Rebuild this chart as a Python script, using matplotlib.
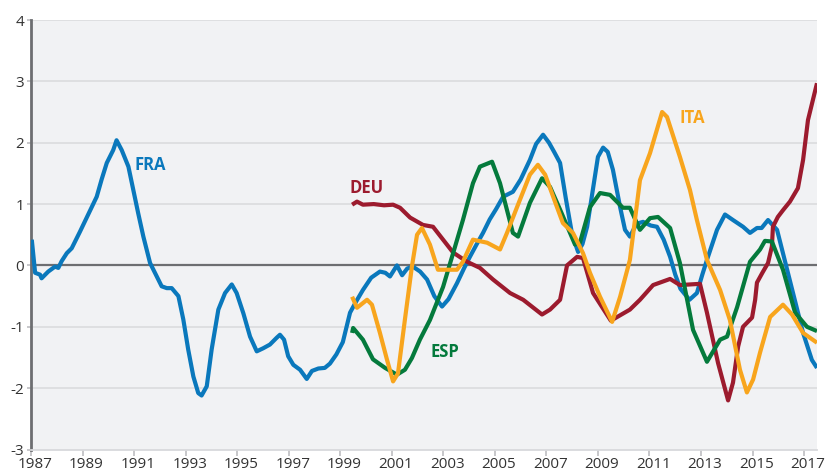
import matplotlib
matplotlib.use("Agg")
import matplotlib.pyplot as plt
import matplotlib.transforms as mtransforms

plt.rcParams['font.family'] = ['Open Sans', 'DejaVu Sans']

# ---------------- data ----------------
fra_x = [1987.03, 1987.16, 1987.35, 1987.41, 1987.67, 1987.93, 1988.06, 1988.19, 1988.39, 1988.58,
         1988.9, 1989.22, 1989.55, 1989.74, 1989.94, 1990.19, 1990.32, 1990.52, 1990.78, 1990.97,
         1991.16, 1991.36, 1991.62, 1991.88, 1992.07, 1992.27, 1992.46, 1992.72, 1992.91, 1993.1,
         1993.3, 1993.49, 1993.62, 1993.82, 1994.01, 1994.27, 1994.53, 1994.79, 1994.98, 1995.24,
         1995.5, 1995.76, 1996.01, 1996.27, 1996.53, 1996.66, 1996.82, 1996.98, 1997.18, 1997.44,
         1997.7, 1997.9, 1998.15, 1998.4, 1998.6, 1998.85, 1999.1, 1999.38, 1999.6, 1999.88,
         2000.2, 2000.54, 2000.75, 2000.93, 2001.2, 2001.4, 2001.6, 2001.82, 2002.1, 2002.37,
         2002.65, 2002.95, 2003.2, 2003.53, 2003.8, 2004.03, 2004.3, 2004.54, 2004.8, 2005.05,
         2005.32, 2005.7, 2006.0, 2006.36, 2006.6, 2006.87, 2007.1, 2007.3, 2007.53, 2007.75,
         2008.0, 2008.23, 2008.4, 2008.58, 2008.8, 2009.0, 2009.2, 2009.38, 2009.58, 2009.86,
         2010.05, 2010.24, 2010.5, 2010.75, 2011.05, 2011.29, 2011.55, 2011.8, 2012.0, 2012.2,
         2012.55, 2012.84, 2013.05, 2013.23, 2013.62, 2013.93, 2014.24, 2014.63, 2014.9, 2015.17,
         2015.35, 2015.6, 2015.95, 2016.18, 2016.57, 2016.96, 2017.3, 2017.5]
fra_y = [0.42, -0.12, -0.15, -0.21, -0.10, -0.02, -0.04, 0.07, 0.20, 0.28,
         0.55, 0.83, 1.12, 1.40, 1.67, 1.88, 2.04, 1.88, 1.61, 1.23,
         0.85, 0.47, 0.04, -0.18, -0.34, -0.37, -0.37, -0.50, -0.88, -1.37,
         -1.81, -2.08, -2.12, -1.97, -1.37, -0.72, -0.45, -0.31, -0.45, -0.78,
         -1.16, -1.40, -1.35, -1.29, -1.18, -1.13, -1.21, -1.48, -1.62, -1.70,
         -1.85, -1.72, -1.68, -1.67, -1.60, -1.45, -1.25, -0.77, -0.60, -0.40,
         -0.20, -0.10, -0.12, -0.18, 0.00, -0.16, -0.05, -0.02, -0.10, -0.23,
         -0.50, -0.67, -0.55, -0.29, -0.05, 0.14, 0.35, 0.53, 0.75, 0.92,
         1.12, 1.20, 1.40, 1.72, 1.98, 2.13, 2.00, 1.85, 1.67, 1.10,
         0.50, 0.22, 0.35, 0.63, 1.23, 1.77, 1.92, 1.85, 1.56, 0.95,
         0.58, 0.47, 0.68, 0.71, 0.65, 0.63, 0.42, 0.14, -0.15, -0.38,
         -0.56, -0.45, -0.15, 0.09, 0.58, 0.83, 0.74, 0.63, 0.53, 0.61,
         0.61, 0.74, 0.58, 0.20, -0.45, -1.10, -1.54, -1.67]

deu_x = [1999.46, 1999.65, 1999.88, 2000.3, 2000.7, 2001.05, 2001.32, 2001.71, 2002.21, 2002.6,
         2002.99, 2003.38, 2003.92, 2004.42, 2004.93, 2005.59, 2006.1, 2006.83, 2007.14, 2007.53,
         2007.8, 2008.19, 2008.42, 2008.81, 2009.5, 2010.24, 2010.63, 2011.14, 2011.8, 2012.18,
         2012.96, 2013.23, 2013.66, 2014.05, 2014.24, 2014.44, 2014.63, 2014.98, 2015.1, 2015.17,
         2015.38, 2015.6, 2015.75, 2015.79, 2015.98, 2016.18, 2016.45, 2016.76, 2016.96, 2017.15,
         2017.5]
deu_y = [0.99, 1.04, 0.99, 1.00, 0.98, 0.99, 0.94, 0.78, 0.66, 0.63,
         0.42, 0.21, 0.06, -0.04, -0.23, -0.45, -0.56, -0.80, -0.72, -0.56,
         0.00, 0.14, 0.12, -0.45, -0.90, -0.72, -0.56, -0.32, -0.22, -0.32,
         -0.30, -0.77, -1.59, -2.20, -1.91, -1.32, -1.00, -0.85, -0.56, -0.28,
         -0.12, 0.04, 0.31, 0.63, 0.79, 0.90, 1.04, 1.26, 1.72, 2.37,
         2.97]

ita_x = [1999.46, 1999.65, 2000.04, 2000.23, 2000.54, 2000.81, 2001.05, 2001.24, 2001.51, 2001.78,
         2001.98, 2002.17, 2002.48, 2002.79, 2003.14, 2003.53, 2003.76, 2004.15, 2004.7, 2005.2,
         2005.47, 2005.86, 2006.36, 2006.67, 2006.95, 2007.41, 2007.64, 2008.03, 2008.42, 2008.69,
         2009.08, 2009.55, 2009.86, 2010.24, 2010.63, 2011.02, 2011.49, 2011.68, 2012.18, 2012.57,
         2012.84, 2013.23, 2013.74, 2014.12, 2014.51, 2014.78, 2015.02, 2015.29, 2015.68, 2016.18,
         2016.53, 2016.96, 2017.5]
ita_y = [-0.51, -0.69, -0.56, -0.64, -1.10, -1.53, -1.89, -1.76, -0.88, -0.02,
         0.50, 0.61, 0.34, -0.07, -0.07, -0.07, 0.06, 0.42, 0.37, 0.26,
         0.53, 0.95, 1.48, 1.64, 1.48, 0.95, 0.69, 0.53, 0.20, -0.12,
         -0.51, -0.92, -0.51, 0.09, 1.39, 1.83, 2.50, 2.42, 1.77, 1.23,
         0.74, 0.09, -0.40, -0.89, -1.70, -2.07, -1.86, -1.42, -0.84, -0.64,
         -0.80, -1.10, -1.26]

esp_x = [1999.46, 1999.5, 1999.88, 2000.27, 2000.74, 2001.2, 2001.51, 2001.78, 2002.09, 2002.48,
         2002.99, 2003.38, 2003.76, 2004.15, 2004.42, 2004.89, 2005.2, 2005.7, 2005.9, 2006.36,
         2006.83, 2007.14, 2007.53, 2008.11, 2008.3, 2008.69, 2009.08, 2009.47, 2009.97, 2010.24,
         2010.63, 2011.02, 2011.33, 2011.8, 2012.18, 2012.69, 2013.23, 2013.74, 2014.01, 2014.4,
         2014.9, 2015.29, 2015.48, 2015.75, 2016.18, 2016.65, 2017.11, 2017.5]
esp_y = [-1.10, -1.02, -1.21, -1.53, -1.67, -1.78, -1.70, -1.51, -1.21, -0.89,
         -0.35, 0.20, 0.74, 1.34, 1.61, 1.69, 1.34, 0.53, 0.47, 1.02,
         1.42, 1.28, 0.91, 0.34, 0.37, 0.95, 1.18, 1.15, 0.94, 0.94,
         0.58, 0.77, 0.79, 0.61, 0.04, -1.05, -1.57, -1.21, -1.16, -0.68,
         0.06, 0.26, 0.40, 0.39, -0.07, -0.77, -1.00, -1.07]

x_ticks = list(range(1987, 2018, 2))
y_ticks = [-3, -2, -1, 0, 1, 2, 3, 4]

series = [
    ("FRA", fra_x, fra_y, "#0A78BC", (1991.62, 1.64)),
    ("DEU", deu_x, deu_y, "#9C1B2E", (2000.04, 1.27)),
    ("ESP", esp_x, esp_y, "#047A3C", (2003.07, -1.41)),
    ("ITA", ita_x, ita_y, "#F8A51D", (2012.65, 2.40)),
]

# ---------------- figure ----------------
fig = plt.figure(figsize=(8.34, 4.74), dpi=100)
ax = fig.add_axes([31 / 834, 1 - 449.5 / 474, (817 - 31) / 834, (449.5 - 20) / 474])
ax.set_facecolor("#F1F2F4")

ax.set_xlim(1987, 2017.5)
ax.set_ylim(-3, 4)

for yv in y_ticks:
    if yv not in (0, -3):
        ax.axhline(yv, color="#DCDDE0", lw=1.3, zorder=1)
ax.axhline(0, color="#6D6E71", lw=1.6, zorder=2)

for name, xs, ys, col, pos in series:
    ax.plot(xs, ys, color=col, lw=3.0, solid_joinstyle="round", solid_capstyle="butt", zorder=3)
    ax.text(pos[0], pos[1], name, color=col, fontsize=12, fontweight="bold",
            ha="center", va="center", zorder=4)

for s in ("top", "right"):
    ax.spines[s].set_visible(False)
ax.spines["left"].set_color("#6D6E71")
ax.spines["left"].set_linewidth(2)
ax.spines["bottom"].set_color("#D8D9DC")
ax.spines["bottom"].set_linewidth(1.3)

ax.set_xticks(x_ticks)
ax.set_xticklabels([str(t) for t in x_ticks])
ax.set_yticks(y_ticks)
ax.set_yticklabels([str(t) for t in y_ticks])
ax.tick_params(axis="x", direction="out", length=4, width=1.2, color="#BDBEC1",
               labelsize=11, labelcolor="#333333", pad=1.5)
ax.tick_params(axis="y", direction="out", length=3, width=1.2, color="#BDBEC1",
               labelsize=11, labelcolor="#333333", pad=2)

offset = mtransforms.ScaledTranslation(4 / 100, 0, fig.dpi_scale_trans)
for lab in ax.get_xticklabels():
    lab.set_transform(lab.get_transform() + offset)

fig.savefig("out.png", dpi=100)
